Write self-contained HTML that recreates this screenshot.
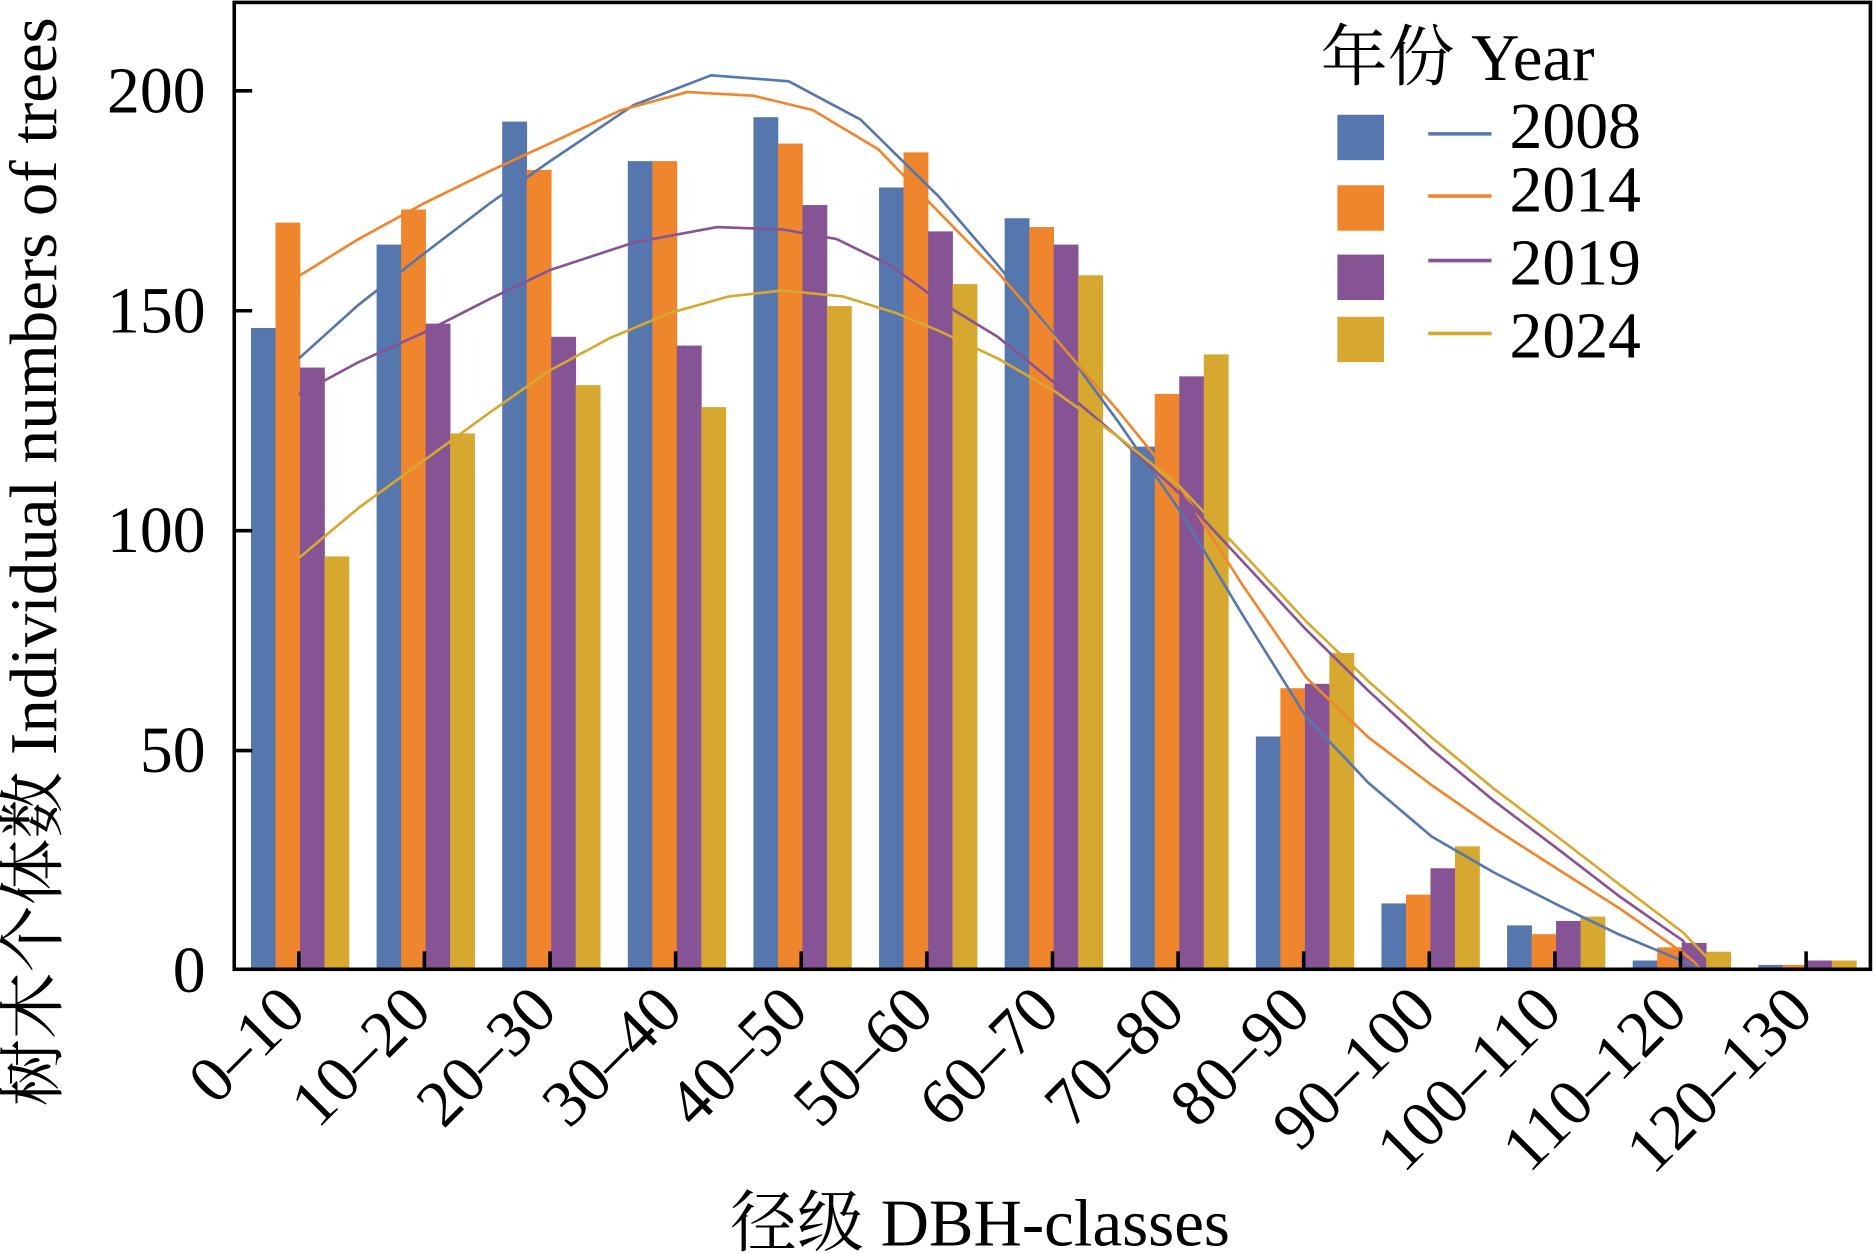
<!DOCTYPE html>
<html><head><meta charset="utf-8"><style>html,body{margin:0;padding:0;background:#fff}svg{display:block}</style></head>
<body>
<svg id="s" xmlns="http://www.w3.org/2000/svg" width="1874" height="1254" viewBox="0 0 1568 1049.2" font-family="'Liberation Serif','Noto Serif CJK SC',serif">
<rect x="0" y="0" width="1568" height="1050" fill="#fff"/>
<g id="bars"></g>
<g fill="none" stroke-width="2.2" stroke-linejoin="round">
<polyline stroke="#5577AD" points="250,300 300,255 355,212 410,170 460,135 530,88 595,63 660,68 720,100 786,165 835,222 882,280 935,352 987,427 1040,515 1093,600 1145,655 1198,700 1250,730 1303,757 1355,782 1408,804 1425,811"/>
<polyline stroke="#EF862D" points="250,231 300,200 355,170 410,143 460,120 520,92 575,77 630,80 680,92 735,125 786,178 835,228 882,282 935,343 987,407 1040,490 1093,567 1145,617 1198,657 1250,693 1303,727 1355,760 1408,797 1425,811"/>
<polyline stroke="#865394" points="250,330 300,303 355,278 410,250 460,226 530,203 600,190 655,192 700,200 745,222 786,252 835,282 882,320 935,365 987,413 1040,470 1093,527 1145,578 1198,627 1250,670 1303,710 1355,750 1408,787 1425,811"/>
<polyline stroke="#D7A82F" points="250,467 300,425 355,385 410,345 460,310 510,283 560,262 610,248 655,243 705,248 750,262 786,277 835,300 882,327 935,365 987,407 1040,463 1093,520 1145,570 1198,617 1250,660 1303,700 1355,740 1408,780 1435,808"/>
</g>
<rect x="196" y="2" width="1369" height="809" fill="none" stroke="#000" stroke-width="3"/>
<g id="ticks" stroke="#000" stroke-width="3"></g>
<g font-size="55" text-anchor="end" fill="#000">
<text x="172" y="94">200</text><text x="172" y="278">150</text><text x="172" y="462">100</text><text x="172" y="646">50</text><text x="172" y="830">0</text>
</g>
<g id="xl" font-size="55" text-anchor="end" fill="#000"></g>
<text transform="translate(47,470) rotate(-90)" font-size="56" text-anchor="middle">树木个体数 Individual numbers of trees</text>
<text x="820" y="1042" font-size="56" text-anchor="middle">径级 DBH-classes</text>
<text x="1105" y="67" font-size="56">年份 Year</text>
<rect x="1119" y="96" width="39" height="38" fill="#5577AD"/>
<rect x="1119" y="155" width="39" height="38" fill="#EF862D"/>
<rect x="1119" y="213" width="39" height="38" fill="#865394"/>
<rect x="1119" y="265" width="39" height="38" fill="#D7A82F"/>
<g stroke-width="3"><line x1="1195" y1="112" x2="1248" y2="112" stroke="#5577AD"/><line x1="1195" y1="164" x2="1248" y2="164" stroke="#EF862D"/><line x1="1195" y1="218" x2="1248" y2="218" stroke="#865394"/><line x1="1195" y1="279" x2="1248" y2="279" stroke="#D7A82F"/></g>
<g font-size="55"><text x="1263" y="124">2008</text><text x="1263" y="177">2014</text><text x="1263" y="238">2019</text><text x="1263" y="299">2024</text></g>
</svg>
<script>
var NS="http://www.w3.org/2000/svg";
var d=[[146,165,193,184,194,178,171,119,53,15,10,2,1],[170,173,182,184,188,186,169,131,64,17,8,5,1],[137,147,144,142,174,168,165,135,65,23,11,6,2],[94,122,133,128,151,156,158,140,72,28,12,4,2]];
var c=["#5577AD","#EF862D","#865394","#D7A82F"],off=[-40,-19.5,1,21.5];
var labs=["0–10","10–20","20–30","30–40","40–50","50–60","60–70","70–80","80–90","90–100","100–110","110–120","120–130"];
var b=document.getElementById("bars"),t=document.getElementById("ticks"),xl=document.getElementById("xl");
for(var i=0;i<13;i++){var tk=250+105.1*i;
for(var s=0;s<4;s++){var r=document.createElementNS(NS,"rect");var h=d[s][i]*3.675;
r.setAttribute("x",tk+off[s]);r.setAttribute("y",811-h);r.setAttribute("width",20.8);r.setAttribute("height",h);r.setAttribute("fill",c[s]);b.appendChild(r);}
var l=document.createElementNS(NS,"line");l.setAttribute("x1",tk);l.setAttribute("x2",tk);l.setAttribute("y1",796);l.setAttribute("y2",811);t.appendChild(l);
var tx=document.createElementNS(NS,"text");tx.setAttribute("transform","translate("+(tk+8)+",848) rotate(-45)");tx.textContent=labs[i];xl.appendChild(tx);}
[76,260,444,628].forEach(function(y){var l=document.createElementNS(NS,"line");l.setAttribute("x1",196);l.setAttribute("x2",211);l.setAttribute("y1",y);l.setAttribute("y2",y);t.appendChild(l);});
</script>
</body></html>
